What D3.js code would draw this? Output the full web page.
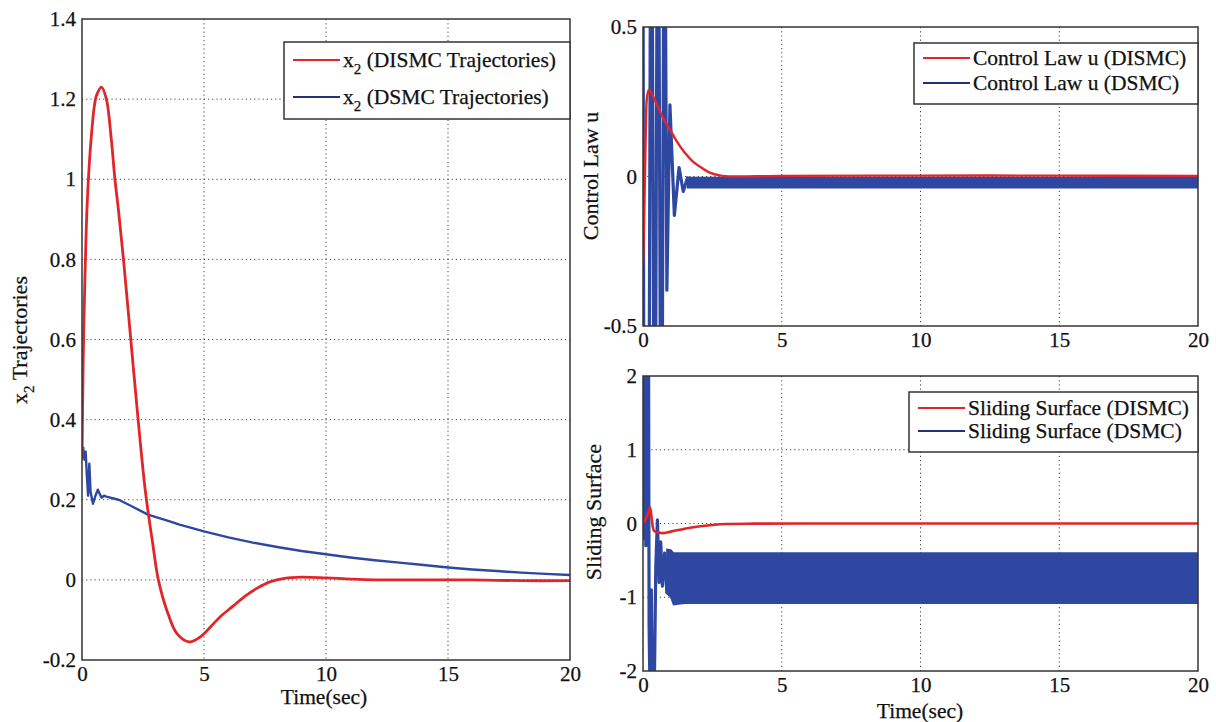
<!DOCTYPE html>
<html lang="en">
<head>
<meta charset="utf-8">
<title>DISMC vs DSMC</title>
<script src="https://d3js.org/d3.v7.min.js"></script>
<style>
  body { margin: 0; background: #fff; }
  svg text { font-family: "Liberation Serif", "Times New Roman", serif; fill: #111; stroke: #111; stroke-width: 0.25px; }
</style>
</head>
<body>
<script>
'use strict';

// ---- data ----
// left panel: x2 trajectories
var tX2Red = [0,0.05,0.1,0.2,0.3,0.4,0.5,0.6,0.8,1.0,1.2,1.35,1.5,1.7,2.0,2.3,2.6,2.9,3.13,3.5,3.9,4.4,4.9,5.3,5.7,6.2,6.7,7.2,7.7,8.3,9,10,11,12,14,16,18,20];
var x2Red  = [0.3,0.55,0.7,0.92,1.04,1.12,1.18,1.21,1.23,1.2,1.1,1.0,0.92,0.8,0.6,0.4,0.22,0.09,0,-0.08,-0.135,-0.155,-0.14,-0.115,-0.09,-0.065,-0.04,-0.02,-0.005,0.004,0.007,0.005,0.002,0,0,0,-0.002,-0.002];
var tX2Blue = [0,0.05,0.1,0.15,0.2,0.25,0.3,0.35,0.45,0.55,0.65,0.8,0.9,1.0,1.5,2,2.7,3.5,4,5,6,7,8,9,10,11,12,13,14,15,16,17,18,19,20];
var x2Blue  = [0.32,0.33,0.3,0.32,0.26,0.21,0.29,0.22,0.19,0.21,0.225,0.205,0.21,0.208,0.2,0.185,0.163,0.148,0.138,0.121,0.106,0.093,0.082,0.072,0.064,0.056,0.049,0.043,0.037,0.031,0.026,0.022,0.018,0.015,0.012];

// top right: control law u
var tURed = [0,0.05,0.1,0.15,0.22,0.35,0.5,0.7,0.85,1.0,1.2,1.5,1.8,2.1,2.4,2.8,3.2,5,10,15,20];
var uRed  = [-0.3,-0.1,0.15,0.27,0.29,0.27,0.24,0.2,0.175,0.153,0.12,0.08,0.05,0.03,0.013,0.003,0,0.002,0.003,0.003,0.002];
var tUBlue = [0,0.03,0.22,0.27,0.33,0.39,0.45,0.51,0.57,0.63,0.69,0.75,0.8,0.86,0.97,1.13,1.3,1.45,1.6,1.75,1.9];
var uBlue  = [0.8,-0.8,-0.8,0.8,0.8,-0.8,-0.8,0.8,0.8,-0.8,-0.8,0.8,0.8,-0.38,0.24,-0.13,0.03,-0.05,-0.005,-0.03,-0.012];
// chattering band of u (DSMC): upper / lower envelope
var tUBand  = [1.6,2,5,10,15,20];
var uBandHi = [-0.003,-0.003,-0.003,-0.003,-0.003,-0.003];
var uBandLo = [-0.038,-0.038,-0.038,-0.038,-0.038,-0.038];

// bottom right: sliding surface
var tSRed = [0,0.15,0.25,0.32,0.4,0.55,0.7,1.0,1.5,2.0,2.5,3.0,4,6,10,15,20];
var sRed  = [0,0.1,0.22,0.05,-0.1,-0.12,-0.13,-0.11,-0.07,-0.04,-0.02,-0.007,-0.002,0,0,0,0];
var tSBlue = [0,0.02,0.04,0.06,0.08,0.1,0.12,0.14,0.16,0.18,0.2,0.22,0.26,0.3,0.34,0.4,0.46,0.52,0.58,0.64,0.7,0.78,0.86];
var sBlue  = [2.5,-0.2,2.5,0.4,2.5,-0.3,2.5,0.6,2.5,0.0,2.5,-1.4,-2.5,-0.9,-2.5,-2.5,-0.6,0.05,-0.8,-0.25,-0.85,-0.4,-0.95];
var tSBand  = [0.86,1.0,1.1,1.5,5,10,15,20];
var sBandHi = [-0.35,-0.36,-0.4,-0.4,-0.4,-0.4,-0.4,-0.4];
var sBandLo = [-0.95,-1.0,-1.1,-1.08,-1.08,-1.08,-1.08,-1.08];

var xTicks = [0,5,10,15,20];
var yTicksX2 = [-0.2,0,0.2,0.4,0.6,0.8,1,1.2,1.4];
var yTicksU = [-0.5,0,0.5];
var yTicksS = [-2,-1,0,1,2];

var RED = "#e0262b";
var BLUE = "#2e48a2";
var BLUE_LEG = "#23307f";

var svg = d3.select("body").append("svg")
    .attr("width", 1216)
    .attr("height", 722);

function zip(t, v) {
    return t.map(function(d, i) { return [d, v[i]]; });
}

function fmt(d) { return String(Math.round(d * 10) / 10); }

// draws one axes box with grid, ticks and labels; returns scales + clipped group
function panel(id, x0, x1, y0, y1, yDom, yTicks) {
    var x = d3.scaleLinear().domain([0, 20]).range([x0, x1]);
    var y = d3.scaleLinear().domain(yDom).range([y1, y0]);
    var g = svg.append("g");

    g.append("clipPath").attr("id", id)
        .append("rect").attr("x", x0).attr("y", y0)
        .attr("width", x1 - x0).attr("height", y1 - y0);

    // dotted grid
    g.selectAll(".gx").data(xTicks.slice(1, -1)).enter().append("line")
        .attr("x1", x).attr("x2", x).attr("y1", y0).attr("y2", y1)
        .attr("stroke", "#444").attr("stroke-dasharray", "1.2,3");
    g.selectAll(".gy").data(yTicks.filter(function(d) { return d > yDom[0] && d < yDom[1]; }))
        .enter().append("line")
        .attr("y1", y).attr("y2", y).attr("x1", x0).attr("x2", x1)
        .attr("stroke", "#444").attr("stroke-dasharray", "1.2,3");

    var ax = g.append("g").attr("transform", "translate(0," + y1 + ")")
        .call(d3.axisBottom(x).tickValues(xTicks).tickSize(0).tickPadding(6).tickFormat(fmt));
    var ay = g.append("g").attr("transform", "translate(" + x0 + ",0)")
        .call(d3.axisLeft(y).tickValues(yTicks).tickSize(0).tickPadding(6).tickFormat(fmt));
    [ax, ay].forEach(function(a) {
        a.select(".domain").remove();
        a.selectAll("text").attr("font-size", 21);
    });

    var plot = g.append("g").attr("clip-path", "url(#" + id + ")");
    return { x: x, y: y, g: g, plot: plot, box: [x0, x1, y0, y1] };
}

function frame(p) {
    var b = p.box;
    p.g.append("rect").attr("x", b[0]).attr("y", b[2])
        .attr("width", b[1] - b[0]).attr("height", b[3] - b[2])
        .attr("fill", "none").attr("stroke", "#333").attr("stroke-width", 1.5);
}

function drawLine(p, data, color, width, curve) {
    var line = d3.line()
        .x(function(d) { return p.x(d[0]); })
        .y(function(d) { return p.y(d[1]); })
        .curve(curve || d3.curveLinear);
    p.plot.append("path").datum(data)
        .attr("d", line).attr("fill", "none")
        .attr("stroke", color).attr("stroke-width", width)
        .attr("stroke-linejoin", "round");
}

function drawBand(p, t, hi, lo, color) {
    var area = d3.area()
        .x(function(d) { return p.x(d[0]); })
        .y0(function(d) { return p.y(d[2]); })
        .y1(function(d) { return p.y(d[1]); });
    var data = t.map(function(d, i) { return [d, hi[i], lo[i]]; });
    p.plot.append("path").datum(data).attr("d", area)
        .attr("fill", color).attr("stroke", color).attr("stroke-width", 1.5);
}

function legend(x0, x1, y0, y1, rows) {
    var g = svg.append("g");
    g.append("rect").attr("x", x0).attr("y", y0)
        .attr("width", x1 - x0).attr("height", y1 - y0)
        .attr("fill", "#fff").attr("stroke", "#333").attr("stroke-width", 1.5);
    rows.forEach(function(r) {
        g.append("line").attr("x1", x0 + 9).attr("x2", x0 + 56)
            .attr("y1", r.y).attr("y2", r.y)
            .attr("stroke", r.color).attr("stroke-width", 2);
        var t = g.append("text").attr("x", x0 + 59).attr("y", r.y + 7)
            .attr("font-size", 21.5);
        if (r.sub) {
            t.append("tspan").text("x");
            t.append("tspan").text("2").attr("font-size", 15).attr("dy", 7);
            t.append("tspan").text(" " + r.label).attr("dy", -7);
        } else {
            t.text(r.label);
        }
    });
}

// ---- left panel ----
var pL = panel("clipL", 82, 570, 19, 660, [-0.2, 1.4], yTicksX2);
drawLine(pL, zip(tX2Blue, x2Blue), BLUE, 2.4, d3.curveLinear);
drawLine(pL, zip(tX2Red, x2Red), RED, 2.8, d3.curveCatmullRom);
frame(pL);
legend(284, 570, 42, 119, [
    { y: 60, color: RED, label: "(DISMC Trajectories)", sub: true },
    { y: 97, color: BLUE_LEG, label: "(DSMC Trajectories)", sub: true }
]);
svg.append("text").attr("x", 324).attr("y", 704).attr("text-anchor", "middle")
    .attr("font-size", 21.5).text("Time(sec)");
var lblL = svg.append("text").attr("transform", "translate(27,340) rotate(-90)")
    .attr("text-anchor", "middle").attr("font-size", 22);
lblL.append("tspan").text("x");
lblL.append("tspan").text("2").attr("font-size", 15).attr("dy", 7);
lblL.append("tspan").text(" Trajectories").attr("dy", -7);

// ---- top right: control law ----
var pU = panel("clipU", 643, 1198, 27, 326, [-0.5, 0.5], yTicksU);
drawBand(pU, tUBand, uBandHi, uBandLo, BLUE);
drawLine(pU, zip(tUBlue, uBlue), BLUE, 3.2, d3.curveLinear);
drawLine(pU, zip(tURed, uRed), RED, 2.4, d3.curveCatmullRom);
frame(pU);
legend(914, 1198, 43, 104, [
    { y: 58, color: RED, label: "Control Law u (DISMC)" },
    { y: 83, color: BLUE_LEG, label: "Control Law u (DSMC)" }
]);
svg.append("text").attr("transform", "translate(598,176) rotate(-90)")
    .attr("text-anchor", "middle").attr("font-size", 22).text("Control Law u");

// ---- bottom right: sliding surface ----
var pS = panel("clipS", 643, 1198, 376, 671, [-2, 2], yTicksS);
drawBand(pS, tSBand, sBandHi, sBandLo, BLUE);
drawLine(pS, zip(tSBlue, sBlue), BLUE, 3.2, d3.curveLinear);
drawLine(pS, zip(tSRed, sRed), RED, 2.6, d3.curveCatmullRom);
frame(pS);
legend(909, 1198, 392, 452, [
    { y: 408, color: RED, label: "Sliding Surface (DISMC)" },
    { y: 431, color: BLUE_LEG, label: "Sliding Surface (DSMC)" }
]);
svg.append("text").attr("x", 920).attr("y", 718).attr("text-anchor", "middle")
    .attr("font-size", 21.5).text("Time(sec)");
svg.append("text").attr("transform", "translate(601,512) rotate(-90)")
    .attr("text-anchor", "middle").attr("font-size", 22).text("Sliding Surface");
</script>
</body>
</html>
